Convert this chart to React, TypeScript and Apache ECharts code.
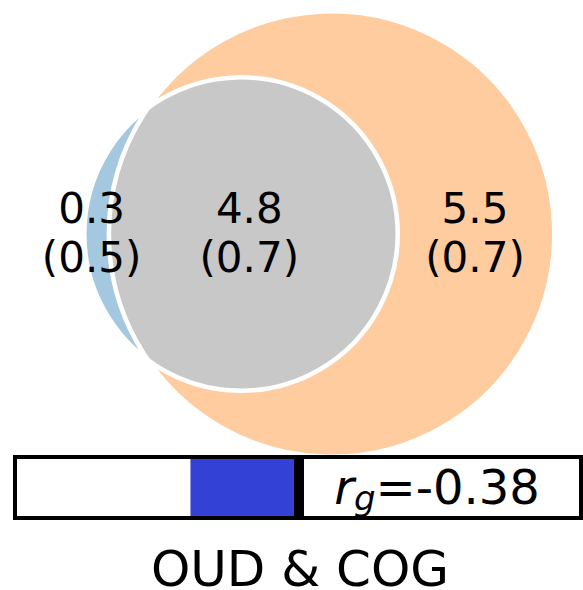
import React, { useEffect, useRef } from "react";
import * as echarts from "echarts";

// ---- data ----
const regionNames = ["OUD only", "OUD & COG", "COG only"];
const regionValues = [0.3, 4.8, 5.5];
const regionErrors = [0.5, 0.7, 0.7];
const rgValues = [-0.38];
const rgRange = [-1, 1];
const rgZero = [0];
const pairTitle = "OUD & COG";

// ---- style / layout ----
const COLOR_A = "#a5c8e1";
const COLOR_B = "#ffcc9f";
const COLOR_AB = "#c8c8c8";
const COLOR_RG = "#3341d6";
const FONT = "DejaVu Sans";
const W = 583;
const H = 590;
const PX_PER_UNIT = 123;
const VENN_CX = 241;
const VENN_CY = 234;
const VENN_H = 455;
const LABEL_SHIFT_PX = [-5, -4, -1];

// Venn geometry from subset sizes (areas proportional)
const areaA = regionValues[0] + regionValues[1];
const areaB = regionValues[1] + regionValues[2];
const rA = Math.sqrt(areaA / Math.PI);
const rB = Math.sqrt(areaB / Math.PI);
function lensArea(d: number) {
  if (d >= rA + rB) return 0;
  if (d <= Math.abs(rA - rB)) return Math.PI * Math.min(rA, rB) ** 2;
  const t1 = rA * rA * Math.acos((d * d + rA * rA - rB * rB) / (2 * d * rA));
  const t2 = rB * rB * Math.acos((d * d + rB * rB - rA * rA) / (2 * d * rB));
  const t3 =
    0.5 *
    Math.sqrt((-d + rA + rB) * (d + rA - rB) * (d - rA + rB) * (d + rA + rB));
  return t1 + t2 - t3;
}
let lo = Math.abs(rA - rB);
let hi = rA + rB;
for (let i = 0; i < 100; i++) {
  const mid = (lo + hi) / 2;
  if (lensArea(mid) > regionValues[1]) lo = mid;
  else hi = mid;
}
const dist = (lo + hi) / 2;
const chordX = (dist * dist + rA * rA - rB * rB) / (2 * dist);
const chordH = Math.sqrt(rA * rA - chordX * chordX);
const labelXs = [
  (-rA + (dist - rB)) / 2,
  ((dist - rB) + rA) / 2,
  (rA + (dist + rB)) / 2,
];

export default function App() {
  const ref = useRef<HTMLDivElement>(null);
  useEffect(() => {
    document.body.style.margin = "0";
    const chart = echarts.init(ref.current!, null, { renderer: "svg" });
    const xMin = -VENN_CX / PX_PER_UNIT;
    const xMax = (W - VENN_CX) / PX_PER_UNIT;
    const yMax = VENN_CY / PX_PER_UNIT;
    const yMin = -(VENN_H - VENN_CY) / PX_PER_UNIT;
    const fmt = (v: number) => v.toFixed(1);

    chart.setOption({
      animation: false,
      backgroundColor: "#fff",
      grid: [
        { left: 0, top: 0, width: W, height: VENN_H },
        { left: 15, top: 455, width: 566, height: 65 },
      ],
      xAxis: [
        { type: "value", gridIndex: 0, min: xMin, max: xMax, show: false },
        { type: "value", gridIndex: 1, min: rgRange[0], max: rgRange[1], show: false },
      ],
      yAxis: [
        { type: "value", gridIndex: 0, min: yMin, max: yMax, show: false },
        { type: "category", gridIndex: 1, data: ["rg"], show: false },
      ],
      graphic: [
        {
          type: "rect",
          z: 3,
          shape: { x: 15, y: 457, width: 566, height: 61 },
          style: { fill: "#fff", stroke: null },
        },
        {
          type: "rect",
          z: 20,
          shape: { x: 15, y: 457, width: 566, height: 61 },
          style: { fill: "none", stroke: "#000", lineWidth: 4 },
        },
        {
          type: "text",
          z: 20,
          x: 437,
          y: 487,
          style: {
            text: `{r|r}{g|g}{n|=${rgValues[0].toFixed(2)}}`,
            align: "center",
            verticalAlign: "middle",
            rich: {
              r: { fontFamily: FONT, fontSize: 48, fontStyle: "italic", fill: "#000", lineHeight: 56 },
              g: { fontFamily: FONT, fontSize: 34, fontStyle: "italic", fill: "#000", lineHeight: 34, verticalAlign: "bottom" },
              n: { fontFamily: FONT, fontSize: 48, fill: "#000", lineHeight: 56 },
            },
          },
        },
        {
          type: "text",
          z: 20,
          x: 300,
          y: 569,
          style: {
            text: pairTitle,
            fontFamily: FONT,
            fontSize: 50,
            lineHeight: 40,
            fill: "#000",
            align: "center",
            verticalAlign: "middle",
          },
        },
      ],
      series: [
        {
          type: "custom",
          xAxisIndex: 0,
          yAxisIndex: 0,
          z: 2,
          data: [[0, 0]],
          renderItem: (params: any, api: any) => {
            const cA = api.coord([0, 0]);
            const cB = api.coord([dist, 0]);
            const pA = api.size([rA, rA])[0];
            const pB = api.size([rB, rB])[0];
            const top = api.coord([chordX, chordH]);
            const bot = api.coord([chordX, -chordH]);
            const largeA = chordX < 0 ? 1 : 0;
            const largeB = chordX - dist > 0 ? 1 : 0;
            const d =
              `M ${top[0]} ${top[1]} A ${pA} ${pA} 0 ${largeA} 1 ${bot[0]} ${bot[1]} ` +
              `A ${pB} ${pB} 0 ${largeB} 1 ${top[0]} ${top[1]} Z`;
            const labels = regionValues.map((v, i) => {
              const p = api.coord([labelXs[i], 0]);
              return {
                type: "text",
                name: regionNames[i],
                style: {
                  text: `${fmt(v)}\n(${fmt(regionErrors[i])})`,
                  x: p[0] + LABEL_SHIFT_PX[i],
                  y: p[1] - 1,
                  fill: "#000",
                  fontFamily: FONT,
                  fontSize: 42,
                  lineHeight: 49,
                  align: "center",
                  verticalAlign: "middle",
                },
              };
            });
            return {
              type: "group",
              children: [
                { type: "circle", shape: { cx: cB[0], cy: cB[1], r: pB }, style: { fill: COLOR_B } },
                { type: "circle", shape: { cx: cA[0], cy: cA[1], r: pA }, style: { fill: COLOR_A } },
                { type: "path", shape: { pathData: d }, style: { fill: COLOR_AB } },
                { type: "circle", shape: { cx: cA[0], cy: cA[1], r: pA }, style: { fill: "none", stroke: "#fff", lineWidth: 4.5 } },
                { type: "circle", shape: { cx: cB[0], cy: cB[1], r: pB }, style: { fill: "none", stroke: "#fff", lineWidth: 4.5 } },
                ...labels,
              ],
            };
          },
        },
        {
          type: "bar",
          xAxisIndex: 1,
          yAxisIndex: 1,
          z: 5,
          barWidth: "100%",
          data: rgValues,
          itemStyle: { color: COLOR_RG },
        },
        {
          type: "custom",
          xAxisIndex: 1,
          yAxisIndex: 1,
          z: 10,
          data: rgZero.map((v) => [v, 0]),
          renderItem: (params: any, api: any) => {
            const p = api.coord([api.value(0), 0]);
            const h = api.size([0, 1])[1];
            return {
              type: "rect",
              shape: { x: p[0] - 4, y: p[1] - h / 2, width: 10, height: h },
              style: { fill: "#000" },
            };
          },
        },
      ],
    });
    return () => chart.dispose();
  }, []);
  return <div ref={ref} style={{ width: W, height: H }} />;
}
